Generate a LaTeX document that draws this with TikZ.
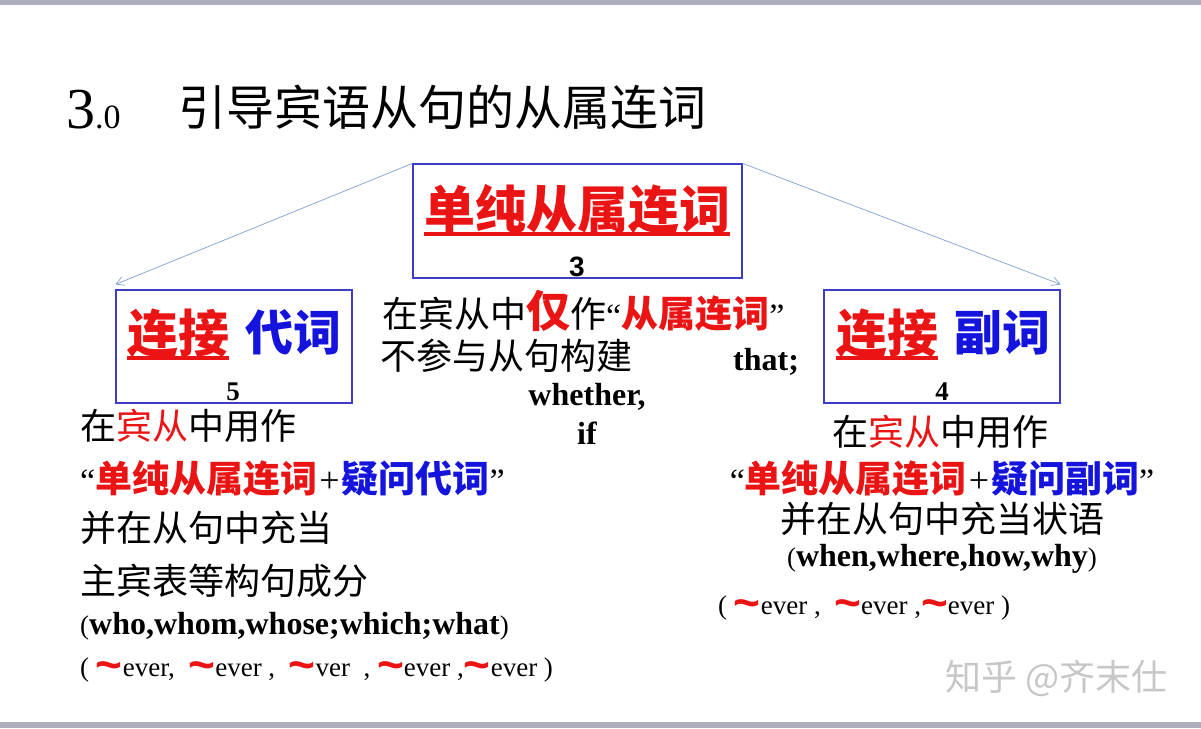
\documentclass[tikz,border=0pt]{standalone}
\usepackage{fontspec}
\setmainfont{Liberation Serif}
\newfontfamily\cjk{Noto Sans CJK SC}
\newfontfamily\arial{Liberation Sans}
\usetikzlibrary{arrows.meta}
\definecolor{boxblue}{RGB}{60,60,200}
\definecolor{arrblue}{RGB}{130,160,210}
\definecolor{cnred}{RGB}{235,20,20}
\definecolor{cnblue}{RGB}{20,20,220}
\definecolor{bargray}{RGB}{172,174,188}
\newcommand\wv{{\color{cnred}\arial\bfseries\fontsize{46}{46}\selectfont\raisebox{-4pt}{\char`\~}}}
\newcommand\qt[1]{{\rmfamily\mdseries\fontsize{34}{36}\selectfont #1}}
\newcommand\pl{{\rmfamily\mdseries\fontsize{36}{36}\selectfont\kern2pt+\kern2pt}}

\begin{document}
\begin{tikzpicture}[x=1pt,y=-1pt,
  box/.style={draw=boxblue, line width=1.2pt, inner sep=0},
  zh/.style={inner sep=0, font=\fontsize{36}{40}\selectfont\cjk},
  zb/.style={inner sep=0, font=\fontsize{37}{40}\selectfont\cjk\bfseries},
  hd/.style={inner sep=0, font=\fontsize{51}{56}\selectfont\cjk\bfseries},
  en/.style={inner sep=0, font=\fontsize{32}{34}\selectfont\bfseries},
  ev/.style={inner sep=0, font=\fontsize{27}{30}\selectfont},
  uline/.style={cnred, line width=3.5pt},
  link/.style={draw=arrblue, line width=0.7pt, -{Straight Barb[length=8pt,width=9pt]}}]

  \fill[white] (0,0) rectangle (1201,728);
  \useasboundingbox (0,0) rectangle (1201,728);
  \fill[bargray] (0,0) rectangle (1201,5);
  \fill[bargray] (0,722) rectangle (1201,728);

  \node[inner sep=0, anchor=base west] (num) at (66,128)
    {{\fontsize{58}{60}\selectfont 3}{\fontsize{34}{36}\selectfont .0}};
  \node[inner sep=0, anchor=base west, font=\fontsize{48}{52}\selectfont\cjk] (title) at (178,125)
    {引导宾语从句的从属连词};

  \node[box, minimum width=329, minimum height=114] (top) at (577.5,221) {};
  \node[box, minimum width=236, minimum height=113] (pron) at (234,346.5) {};
  \node[box, minimum width=236, minimum height=113] (adv) at (942,346.5) {};

  \node[hd, cnred, anchor=base] (pure) at (577,228) {单纯从属连词};
  \draw[uline] ([yshift=-6pt]pure.base west) -- ([yshift=-6pt]pure.base east);
  \node[inner sep=0, anchor=base, font=\arial\bfseries\fontsize{28}{30}\selectfont] (n3) at (577,276) {3};

  \node[hd, cnred, anchor=base west] (lj1) at (127,352) {连接};
  \node[hd, cnblue, anchor=base west, font=\fontsize{48}{52}\selectfont\cjk\bfseries] (dc) at (245,350) {代词};
  \draw[uline] ([yshift=-6pt]lj1.base west) -- ([yshift=-6pt]lj1.base east);
  \node[en, anchor=base, font=\fontsize{27}{30}\selectfont\bfseries] (n5) at (233,400) {5};

  \node[hd, cnred, anchor=base west] (lj2) at (836,352) {连接};
  \node[hd, cnblue, anchor=base west, font=\fontsize{48}{52}\selectfont\cjk\bfseries] (fc) at (954,350) {副词};
  \draw[uline] ([yshift=-6pt]lj2.base west) -- ([yshift=-6pt]lj2.base east);
  \node[en, anchor=base, font=\fontsize{27}{30}\selectfont\bfseries] (n4) at (942,400) {4};

  \draw[link] (top.north west) -- ([yshift=5pt]pron.north west);
  \draw[link] (top.north east) -- ([yshift=5pt]adv.north east);

  \node[zh, anchor=base west] (m1) at (382,327)
    {在宾从中{\color{cnred}\bfseries\fontsize{44}{44}\selectfont 仅}作\qt{“}{\color{cnred}\bfseries\fontsize{37}{40}\selectfont 从属连词}\qt{”}};
  \node[zh, anchor=base west] (m2) at (380,369) {不参与从句构建};
  \node[en, anchor=base west] (that) at (733,370) {that;};
  \node[en, anchor=base] (whether) at (587,405) {whether,};
  \node[en, anchor=base] (if) at (587,444) {if};

  \node[zh, anchor=base west] (l1) at (80,439) {在{\color{cnred}宾从}中用作};
  \node[zb, anchor=base west] (l2) at (80,492)
    {\qt{“}{\color{cnred}单纯从属连词}\pl{\color{cnblue}疑问代词}\qt{”}};
  \node[zh, anchor=base west] (l3) at (80,541) {并在从句中充当};
  \node[zh, anchor=base west] (l4) at (80,594) {主宾表等构句成分};
  \node[en, anchor=base west] (l5) at (80,634)
    {{\mdseries\fontsize{27}{30}\selectfont(}who,whom,whose;which;what{\mdseries\fontsize{27}{30}\selectfont)}};
  \node[ev, anchor=base west] (l6) at (80,676)
    {( \wv ever,\ \ \wv ever ,\ \ \wv ver\ \ ,\ \wv ever ,\wv ever )};

  \node[zh, anchor=base] (r1) at (940,445) {在{\color{cnred}宾从}中用作};
  \node[zb, anchor=base] (r2) at (942,492)
    {\qt{“}{\color{cnred}单纯从属连词}\pl{\color{cnblue}疑问副词}\qt{”}};
  \node[zh, anchor=base] (r3) at (942,532) {并在从句中充当状语};
  \node[en, anchor=base] (r4) at (942,566)
    {{\mdseries\fontsize{27}{30}\selectfont(}when,where,how,why{\mdseries\fontsize{27}{30}\selectfont)}};
  \node[ev, anchor=base west] (r5) at (718,614)
    {( \wv ever ,\ \ \wv ever ,\wv ever )};

  \node[inner sep=0, anchor=base west, font=\fontsize{36}{40}\selectfont\cjk, black!22] (mark) at (945,690)
    {知乎 @齐末仕};
\end{tikzpicture}
\end{document}
